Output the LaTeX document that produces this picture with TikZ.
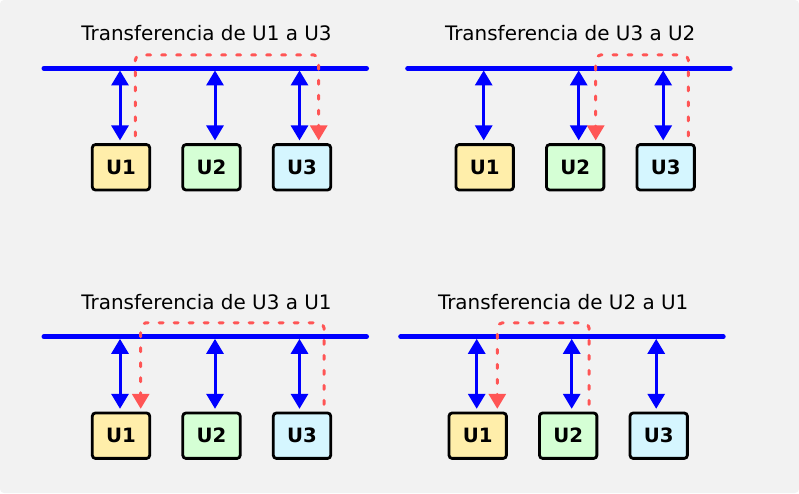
\documentclass[tikz,border=0pt]{standalone}
\usepackage{fontspec}
\setmainfont{DejaVu Sans}
\usetikzlibrary{arrows.meta,calc}
\definecolor{bgcol}{HTML}{F2F2F2}
\definecolor{ucola}{HTML}{FFEEAA}
\definecolor{ucolb}{HTML}{D5FFD5}
\definecolor{ucolc}{HTML}{D5F6FF}
\definecolor{flowred}{HTML}{FF5555}

\begin{document}
\begin{tikzpicture}[x=0.75pt,y=-0.75pt,
  unit/.style={draw=black,line width=2.1pt,rounded corners=2.25pt,minimum width=43pt,minimum height=34pt,inner sep=0pt,font=\fontsize{14.8}{17}\selectfont\bfseries},
  bus/.style={line width=3.75pt,blue,line cap=round},
  link/.style={line width=2.25pt,blue,{Triangle[width=12.75pt,length=11.25pt]}-{Triangle[width=12.75pt,length=11.25pt]}},
  flow/.style={line width=2.25pt,flowred,dash pattern=on 3pt off 8.25pt,line cap=round,rounded corners=3.75pt,-{Triangle[width=12.75pt,length=11.25pt]}},
  title/.style={anchor=base,font=\fontsize{14.95}{17}\selectfont}]
\useasboundingbox (0,0) rectangle (799,493);
\fill[bgcol,rounded corners=3pt] (0,0) rectangle (799,493);
\foreach \p/\ox/\oy/\src/\dst in {1/44/68.3/U1/U3, 2/407.7/68.3/U3/U2, 3/44/336.7/U3/U1, 4/400.7/336.7/U2/U1}{
\begin{scope}[shift={(\ox,\oy)}]
\coordinate (p\p w) at (0,0);
\coordinate (p\p e) at (322.5,0);
\draw[bus] (p\p w) -- (p\p e);
\node[title] (p\p t) at (162.5,-27.5) {Transferencia de \src{} a \dst};
\node[unit,fill=ucola] (p\p u1) at (77,99) {U1};
\node[unit,fill=ucolb] (p\p u2) at (167.5,99) {U2};
\node[unit,fill=ucolc] (p\p u3) at (258,99) {U3};
\foreach \u/\dx in {1/-1,2/3.5,3/-2.5}{
  \coordinate (p\p b\u) at ($(p\p u\u.north)+(\dx,-72.8)$);
  \draw[link] (p\p b\u) -- ($(p\p u\u.north)+(\dx,-2.8)$);
}
\end{scope}}
% red dashed transfers
\draw[flow] ($(p1u1.north)+(14.3,-7.3)$) -- ++(0,-81) -| ($(p1u3.north)+(16.7,-2.8)$);
\draw[flow] ($(p2u3.north)+(22.6,-7.3)$) -- ++(0,-81) -| ($(p2u2.north)+(20.5,-2.8)$);
\draw[flow] ($(p3u3.north)+(22,-7.3)$) -- ++(0,-81.5) -| ($(p3u1.north)+(19.7,-2.8)$);
\draw[flow] ($(p4u2.north)+(20.8,-7.3)$) -- ++(0,-81.5) -| ($(p4u1.north)+(19.6,-2.8)$);
\end{tikzpicture}
\end{document}
